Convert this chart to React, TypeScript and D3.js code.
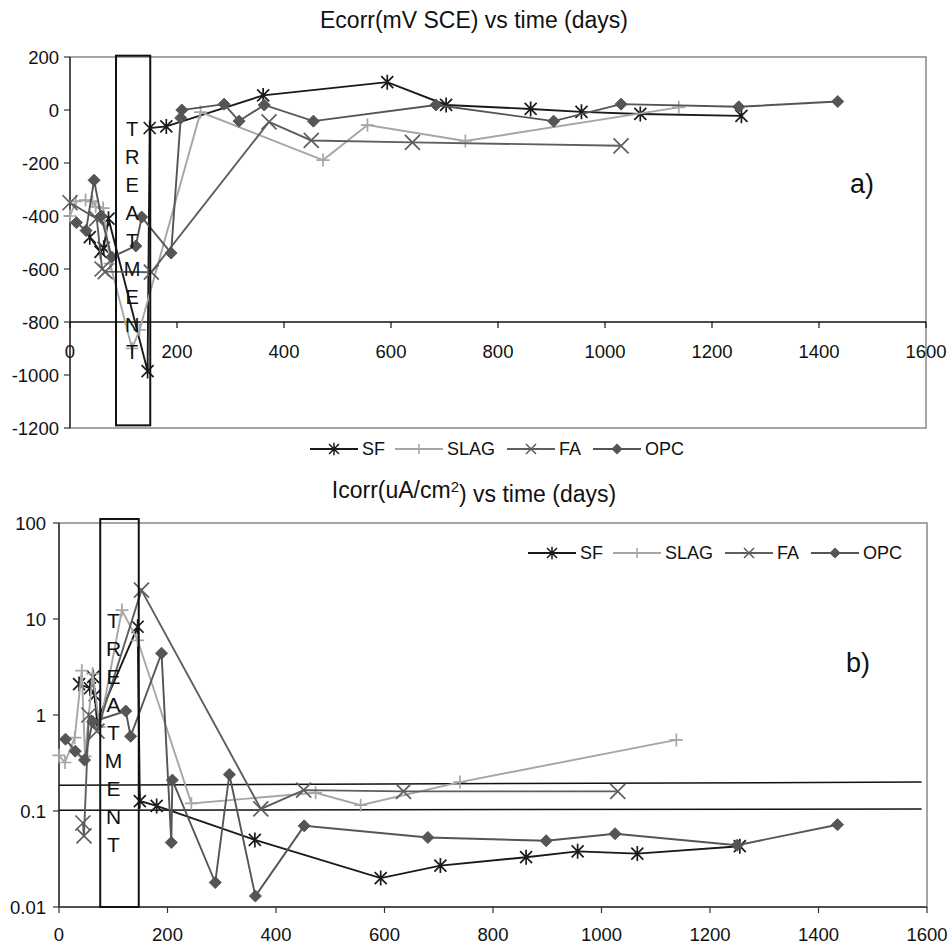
import React from "react";
import * as d3 from "d3";

// ---------- DATA ----------
// Ecorr (mV SCE) vs time (days)
const sfDaysE = [37, 57, 63, 72, 145, 149, 180, 361, 593, 703, 861, 956, 1066, 1255];
const sfE = [-480, -535, -520, -410, -985, -68, -62, 55, 105, 19, 4, -7, -15, -22];
const slagDaysE = [0, 11, 29, 42, 48, 62, 75, 116, 130, 244, 473, 556, 739, 1138];
const slagE = [-400, -345, -340, -345, -365, -370, -580, -900, -830, -8, -189, -57, -117, 10];
const faDaysE = [0, 50, 60, 66, 152, 372, 451, 640, 1030];
const faE = [-350, -410, -600, -610, -612, -45, -115, -122, -135];
const opcDaysE = [12, 30, 45, 58, 78, 123, 134, 189, 207, 209, 288, 316, 363, 455, 684, 904, 1030, 1250, 1435];
const opcE = [-425, -455, -265, -400, -555, -513, -404, -540, -30, 0, 22, -42, 19, -42, 19, -42, 22, 12, 32];

// Icorr (uA/cm2) vs time (days)
const sfDaysI = [37, 57, 63, 66, 70, 145, 149, 180, 361, 593, 703, 861, 956, 1066, 1255];
const sfI = [2.1, 1.9, 2.5, 1.6, 0.86, 8.3, 0.127, 0.113, 0.05, 0.02, 0.027, 0.033, 0.038, 0.036, 0.043];
const slagDaysI = [0, 11, 29, 42, 48, 62, 75, 116, 145, 244, 473, 556, 739, 1138];
const slagI = [0.38, 0.32, 0.58, 2.9, 0.37, 2.7, 0.75, 12.4, 6, 0.12, 0.155, 0.115, 0.2, 0.55];
const faDaysI = [44, 46, 55, 70, 152, 372, 451, 635, 1030];
const faI = [0.075, 0.055, 1.0, 0.68, 20, 0.105, 0.165, 0.16, 0.16];
const opcDaysI = [12, 30, 47, 62, 123, 132, 189, 207, 209, 288, 314, 362, 452, 680, 898, 1025, 1250, 1435];
const opcI = [0.56, 0.42, 0.34, 0.85, 1.1, 0.6, 4.4, 0.047, 0.21, 0.018, 0.24, 0.013, 0.07, 0.053, 0.049, 0.058, 0.044, 0.072];

// axis ticks
const xTicks = [0, 200, 400, 600, 800, 1000, 1200, 1400, 1600];
const yTicksE = [200, 0, -200, -400, -600, -800, -1000, -1200];
const yTicksI = [100, 10, 1, 0.1, 0.01];
const yTickLabelsI = ["100", "10", "1", "0.1", "0.01"];

// treatment windows (days) and threshold lines
const treatmentE = [86, 150];
const treatmentI = [76, 147];
const treatmentLetters = ["T", "R", "E", "A", "T", "M", "E", "N", "T"];
const thresholdLinesI = [[0.186, 0.2], [0.102, 0.105]];

const seriesNames = ["SF", "SLAG", "FA", "OPC"];
const seriesColors = ["#1a1a1a", "#a6a6a6", "#5e5e5e", "#555555"];
const seriesMarkers = ["star", "plus", "x", "diamond"];

const FONT = "'Liberation Sans', Arial, Helvetica, sans-serif";

function markerPath(type: string, x: number, y: number, s: number) {
  switch (type) {
    case "star":
      return `M${x - s},${y - s}L${x + s},${y + s}M${x - s},${y + s}L${x + s},${y - s}M${x},${y - s * 1.25}L${x},${y + s * 1.25}`;
    case "plus":
      return `M${x - s},${y}L${x + s},${y}M${x},${y - s}L${x},${y + s}`;
    case "x":
      return `M${x - s},${y - s}L${x + s},${y + s}M${x - s},${y + s}L${x + s},${y - s}`;
    default:
      return `M${x},${y - s}L${x + s},${y}L${x},${y + s}L${x - s},${y}Z`;
  }
}
const markerSize: Record<string, number> = { star: 6, plus: 6.5, x: 7.5, diamond: 6 };

function Series({ days, vals, x, y, idx }: any) {
  const pts: [number, number][] = days.map((d: number, i: number) => [x(d), y(vals[i])]);
  const line = d3.line()(pts) || "";
  const type = seriesMarkers[idx];
  const color = seriesColors[idx];
  return (
    <g>
      <path d={line} fill="none" stroke={color} strokeWidth={1.9} />
      {pts.map((p, i) => (
        <path
          key={i}
          d={markerPath(type, p[0], p[1], markerSize[type])}
          fill={type === "diamond" ? color : "none"}
          stroke={color}
          strokeWidth={type === "diamond" ? 1 : 1.7}
        />
      ))}
    </g>
  );
}

function Legend({ x0, y }: { x0: number; y: number }) {
  const offs = [0, 85, 197, 283];
  return (
    <g>
      {seriesNames.map((n, i) => {
        const lx = x0 + offs[i];
        const type = seriesMarkers[i];
        return (
          <g key={n}>
            <line x1={lx} x2={lx + 48} y1={y} y2={y} stroke={seriesColors[i]} strokeWidth={1.9} />
            <path
              d={markerPath(type, lx + 24, y, type === "diamond" ? 4.5 : 5)}
              fill={type === "diamond" ? seriesColors[i] : "none"}
              stroke={seriesColors[i]}
              strokeWidth={1.5}
            />
            <text x={lx + 52} y={y} dy="0.36em" fontSize={18} fontFamily={FONT} fill="#111">
              {n}
            </text>
          </g>
        );
      })}
    </g>
  );
}

function Letters({ cx, y0, step, size }: any) {
  return (
    <g>
      {treatmentLetters.map((l, i) => (
        <text key={i} x={cx} y={y0 + i * step} dy="0.36em" textAnchor="middle" fontSize={size} fontFamily={FONT} fill="#111">
          {l}
        </text>
      ))}
    </g>
  );
}

export default function App() {
  // top chart scales
  const xE = d3.scaleLinear().domain([0, 1600]).range([70, 926]);
  const yE = d3.scaleLinear().domain([-1200, 200]).range([428, 57]);
  // bottom chart scales
  const xI = d3.scaleLinear().domain([0, 1600]).range([59, 927]);
  const yI = d3.scaleLog().domain([0.01, 100]).range([907, 523]);

  const topSeries = [
    [sfDaysE, sfE],
    [slagDaysE, slagE],
    [faDaysE, faE],
    [opcDaysE, opcE],
  ];
  const botSeries = [
    [sfDaysI, sfI],
    [slagDaysI, slagI],
    [faDaysI, faI],
    [opcDaysI, opcI],
  ];

  const axisY = yE(-800);

  return (
    <svg width={948} height={945} style={{ position: "absolute", left: 0, top: 0, background: "#fff" }} fontFamily={FONT}>
      <rect x={0} y={0} width={948} height={945} fill="#fff" />
      {/* ---------------- TOP CHART ---------------- */}
      <text x={474} y={20} dy="0.36em" textAnchor="middle" fontSize={23} fill="#111">
        Ecorr(mV SCE) vs time (days)
      </text>
      <rect x={xE(0)} y={yE(200)} width={xE(1600) - xE(0)} height={yE(-1200) - yE(200)} fill="none" stroke="#888" strokeWidth={1.5} />
      <line x1={xE(0)} x2={xE(0)} y1={yE(200)} y2={yE(-1200)} stroke="#333" strokeWidth={1.5} />
      {yTicksE.map((t) => (
        <g key={t}>
          <line x1={xE(0) - 6} x2={xE(0)} y1={yE(t)} y2={yE(t)} stroke="#333" strokeWidth={1.2} />
          <text x={xE(0) - 11} y={yE(t)} dy="0.36em" textAnchor="end" fontSize={18.5} fill="#111">
            {t}
          </text>
        </g>
      ))}
      <line x1={xE(0)} x2={xE(1600)} y1={axisY} y2={axisY} stroke="#111" strokeWidth={1.5} />
      {xTicks.map((t) => (
        <g key={t}>
          <line x1={xE(t)} x2={xE(t)} y1={axisY} y2={axisY + 6} stroke="#111" strokeWidth={1.2} />
          <text x={xE(t)} y={axisY + 29} dy="0.36em" textAnchor="middle" fontSize={18.5} fill="#111">
            {t}
          </text>
        </g>
      ))}
      {topSeries.map((s, i) => (
        <Series key={i} days={s[0]} vals={s[1]} x={xE} y={yE} idx={i} />
      ))}
      <rect
        x={xE(treatmentE[0])}
        y={yE(205)}
        width={xE(treatmentE[1]) - xE(treatmentE[0])}
        height={yE(-1190) - yE(205)}
        fill="none"
        stroke="#111"
        strokeWidth={2}
      />
      <Letters cx={(xE(treatmentE[0]) + xE(treatmentE[1])) / 2 - 1} y0={129} step={27.9} size={20} />
      <text x={862} y={183} dy="0.36em" textAnchor="middle" fontSize={27} fill="#111">
        a)
      </text>
      <Legend x0={310} y={449} />

      {/* ---------------- BOTTOM CHART ---------------- */}
      <text x={474} y={490} dy="0.36em" textAnchor="middle" fontSize={23} fill="#111">
        Icorr(uA/cm
        <tspan dy="-0.45em" fontSize={15}>
          2
        </tspan>
        <tspan dy="0.45em">) vs time (days)</tspan>
      </text>
      <rect x={xI(0)} y={yI(100)} width={xI(1600) - xI(0)} height={yI(0.01) - yI(100)} fill="none" stroke="#888" strokeWidth={1.5} />
      <line x1={xI(0)} x2={xI(0)} y1={yI(100)} y2={yI(0.01)} stroke="#333" strokeWidth={1.5} />
      <line x1={xI(0)} x2={xI(1600)} y1={yI(0.01)} y2={yI(0.01)} stroke="#333" strokeWidth={1.5} />
      {yTicksI.map((t, i) => (
        <g key={t}>
          <line x1={xI(0) - 6} x2={xI(0)} y1={yI(t)} y2={yI(t)} stroke="#333" strokeWidth={1.2} />
          <text x={xI(0) - 13} y={yI(t)} dy="0.36em" textAnchor="end" fontSize={18.5} fill="#111">
            {yTickLabelsI[i]}
          </text>
        </g>
      ))}
      {xTicks.map((t) => (
        <g key={t}>
          <line x1={xI(t)} x2={xI(t)} y1={yI(0.01)} y2={yI(0.01) + 6} stroke="#333" strokeWidth={1.2} />
          <text x={xI(t)} y={yI(0.01) + 27} dy="0.36em" textAnchor="middle" fontSize={18.5} fill="#111">
            {t}
          </text>
        </g>
      ))}
      {thresholdLinesI.map((l, i) => (
        <line key={i} x1={xI(0)} x2={xI(1590)} y1={yI(l[0])} y2={yI(l[1])} stroke="#111" strokeWidth={1.5} />
      ))}
      {botSeries.map((s, i) => (
        <Series key={i} days={s[0]} vals={s[1]} x={xI} y={yI} idx={i} />
      ))}
      <rect
        x={xI(treatmentI[0])}
        y={yI(110)}
        width={xI(treatmentI[1]) - xI(treatmentI[0])}
        height={yI(0.01) - yI(110)}
        fill="none"
        stroke="#111"
        strokeWidth={2}
      />
      <Letters cx={(xI(treatmentI[0]) + xI(treatmentI[1])) / 2 - 6} y0={620} step={28} size={21} />
      <text x={858} y={662} dy="0.36em" textAnchor="middle" fontSize={27} fill="#111">
        b)
      </text>
      <Legend x0={528} y={553} />
    </svg>
  );
}
